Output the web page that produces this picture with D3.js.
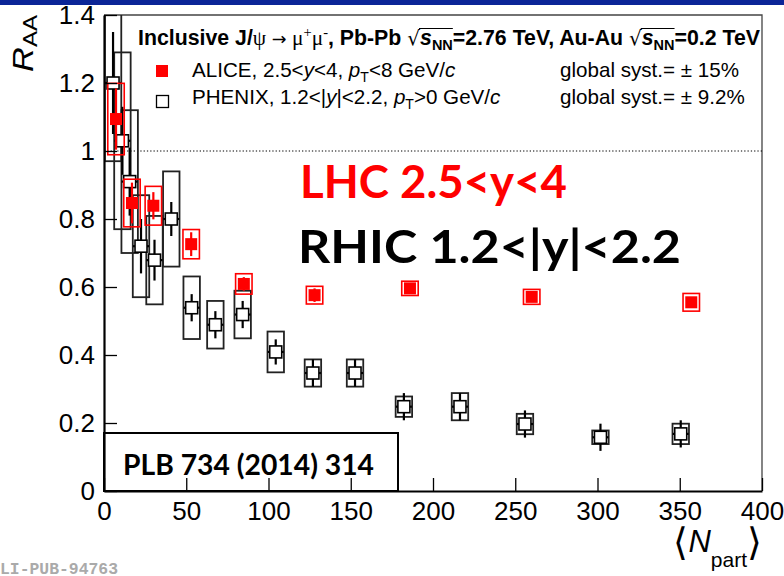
<!DOCTYPE html>
<html>
<head>
<meta charset="utf-8">
<script src="https://cdn.jsdelivr.net/npm/d3@7"></script>
<style>
  html, body { margin: 0; padding: 0; background: #fff; }
  svg { display: block; }
  text { font-family: "Liberation Sans", Arial, sans-serif; }
</style>
</head>
<body>
<script>
// J/psi nuclear modification factor vs <Npart>: ALICE (Pb-Pb 2.76 TeV) and PHENIX (Au-Au 0.2 TeV)

// ALICE, 2.5<y<4
const aliceNpart = [357, 260, 186, 128, 85, 53, 30, 17, 7.3];
const aliceRaa   = [0.555, 0.571, 0.596, 0.576, 0.609, 0.726, 0.839, 0.847, 1.094];
const aliceStat  = [0.015, 0.015, 0.015, 0.02, 0.02, 0.035, 0.04, 0.06, 0.09];
const aliceSyst  = [0.026, 0.022, 0.021, 0.026, 0.03, 0.043, 0.057, 0.07, 0.105];

// PHENIX, 1.2<|y|<2.2
const phenixNpart = [350.6, 301.8, 255.9, 216.4, 182.3, 152.6, 127, 104.4, 84.3, 67.7, 53.3, 40.9, 30.7, 22.5, 15.6, 11.2, 5.5];
const phenixRaa   = [0.168, 0.158, 0.197, 0.248, 0.248, 0.347, 0.347, 0.409, 0.519, 0.489, 0.539, 0.80, 0.679, 0.72, 0.91, 1.03, 1.20];
const phenixStat  = [0.04, 0.04, 0.04, 0.04, 0.04, 0.04, 0.04, 0.037, 0.04, 0.04, 0.04, 0.05, 0.06, 0.08, 0.10, 0.10, 0.15];
const phenixSyst  = [0.03, 0.02, 0.03, 0.04, 0.03, 0.04, 0.04, 0.06, 0.07, 0.07, 0.092, 0.14, 0.13, 0.15, 0.21, 0.26, 0.23];

// axis ticks
const xTicks = [0, 50, 100, 150, 200, 250, 300, 350, 400];
const yTicks = [0, 0.2, 0.4, 0.6, 0.8, 1, 1.2, 1.4];

const W = 784, H = 576;
const pLeft = 104, pRight = 762, pTop = 15, pBottom = 491;
const boxHalf = 5;      // half width of systematic boxes, in Npart units
const mSize = 12;       // marker size, px

const svg = d3.select("body").append("svg").attr("width", W).attr("height", H);

// banner strip
svg.append("rect").attr("x", 0).attr("y", 0).attr("width", W).attr("height", 5).attr("fill", "#0b2597");

const x = d3.scaleLinear().domain([0, 400]).range([pLeft, pRight]);
const y = d3.scaleLinear().domain([0, 1.4]).range([pBottom, pTop]);

svg.append("clipPath").attr("id", "plotclip")
  .append("rect").attr("x", pLeft).attr("y", pTop).attr("width", pRight - pLeft).attr("height", pBottom - pTop);

// frame (top and right)
svg.append("path").attr("d", `M${pLeft},${pTop}H${pRight}V${pBottom}`)
  .attr("fill", "none").attr("stroke", "#444").attr("stroke-width", 1.3);

// unity reference line
svg.append("line").attr("x1", pLeft).attr("x2", pRight).attr("y1", y(1)).attr("y2", y(1))
  .attr("stroke", "#000").attr("stroke-width", 1).attr("stroke-dasharray", "1.3,2");

const plot = svg.append("g").attr("clip-path", "url(#plotclip)");

// PHENIX
const phenix = phenixNpart.map((n, i) => ({ n, r: phenixRaa[i], st: phenixStat[i], sy: phenixSyst[i] }));
const gP = plot.append("g");
gP.selectAll("rect.sys").data(phenix).join("rect").attr("class", "sys")
  .attr("x", d => x(d.n - boxHalf)).attr("width", d => x(d.n + boxHalf) - x(d.n - boxHalf))
  .attr("y", d => y(d.r + d.sy)).attr("height", d => y(d.r - d.sy) - y(d.r + d.sy))
  .attr("fill", "none").attr("stroke", "#222").attr("stroke-width", 1.8);
gP.selectAll("line.stat").data(phenix).join("line").attr("class", "stat")
  .attr("x1", d => x(d.n)).attr("x2", d => x(d.n))
  .attr("y1", d => y(d.r + d.st)).attr("y2", d => y(d.r - d.st))
  .attr("stroke", "#000").attr("stroke-width", 2.2);
gP.selectAll("line.xerr").data(phenix).join("line").attr("class", "xerr")
  .attr("x1", d => x(d.n) - mSize / 2 - 2).attr("x2", d => x(d.n) + mSize / 2 + 2)
  .attr("y1", d => y(d.r)).attr("y2", d => y(d.r))
  .attr("stroke", "#000").attr("stroke-width", 2.2);
gP.selectAll("rect.mk").data(phenix).join("rect").attr("class", "mk")
  .attr("x", d => x(d.n) - mSize / 2).attr("y", d => y(d.r) - mSize / 2)
  .attr("width", mSize).attr("height", mSize)
  .attr("fill", "#fff").attr("stroke", "#000").attr("stroke-width", 1.6);

// ALICE
const alice = aliceNpart.map((n, i) => ({ n, r: aliceRaa[i], st: aliceStat[i], sy: aliceSyst[i] }));
const gA = plot.append("g");
gA.selectAll("rect.sys").data(alice).join("rect").attr("class", "sys")
  .attr("x", d => x(d.n - boxHalf)).attr("width", d => x(d.n + boxHalf) - x(d.n - boxHalf))
  .attr("y", d => y(d.r + d.sy)).attr("height", d => y(d.r - d.sy) - y(d.r + d.sy))
  .attr("fill", "none").attr("stroke", "#ff0000").attr("stroke-width", 1.6);
gA.selectAll("line.stat").data(alice).join("line").attr("class", "stat")
  .attr("x1", d => x(d.n)).attr("x2", d => x(d.n))
  .attr("y1", d => y(d.r + d.st)).attr("y2", d => y(d.r - d.st))
  .attr("stroke", "#ff0000").attr("stroke-width", 2.2);
gA.selectAll("rect.mk").data(alice).join("rect").attr("class", "mk")
  .attr("x", d => x(d.n) - mSize / 2).attr("y", d => y(d.r) - mSize / 2)
  .attr("width", mSize).attr("height", mSize).attr("fill", "#ff0000");

// publication reference box
svg.append("rect").attr("x", pLeft).attr("y", 433).attr("width", 398 - pLeft).attr("height", pBottom - 433)
  .attr("fill", "#fff").attr("stroke", "#000").attr("stroke-width", 2);
svg.append("text").attr("x", 123).attr("y", 475)
  .attr("textLength", 251).attr("lengthAdjust", "spacingAndGlyphs")
  .style("font-family", "Lato, 'Open Sans', sans-serif").style("font-weight", 700).style("font-size", "28px")
  .text("PLB 734 (2014) 314");

// axes
const labelSize = "26px";
const yMinor = d3.range(0, 1.4001, 0.05).filter(v => Math.abs(v * 5 - Math.round(v * 5)) > 1e-6);
const xMinor = d3.range(0, 400.1, 10).filter(v => v % 50 !== 0);

const gy = svg.append("g").attr("transform", `translate(${pLeft},0)`);
gy.call(d3.axisLeft(y).tickValues(yMinor).tickSize(-7).tickSizeOuter(0).tickFormat(""));
gy.call(d3.axisLeft(y).tickValues(yTicks).tickSize(-13).tickSizeOuter(0).tickPadding(9).tickFormat(d => String(d)));
gy.selectAll("path.domain").attr("stroke-width", 2.2);
gy.selectAll("line").attr("stroke-width", 1.3);
gy.selectAll("text").style("font-size", labelSize).style("font-family", "'Liberation Sans', Arial, sans-serif").attr("fill", "#000");

const gx = svg.append("g").attr("transform", `translate(0,${pBottom})`);
gx.call(d3.axisBottom(x).tickValues(xMinor).tickSize(-6).tickSizeOuter(0).tickFormat(""));
gx.call(d3.axisBottom(x).tickValues(xTicks).tickSize(-13).tickSizeOuter(0).tickPadding(11).tickFormat(d => String(d)));
gx.selectAll("path.domain").attr("stroke-width", 2.2);
gx.selectAll("line").attr("stroke-width", 1.3);
gx.selectAll("text").style("font-size", labelSize).style("font-family", "'Liberation Sans', Arial, sans-serif").attr("fill", "#000");

// axis titles
const yt = svg.append("text").attr("transform", `translate(33,${pTop}) rotate(-90)`)
  .attr("text-anchor", "end").attr("textLength", 57).attr("lengthAdjust", "spacingAndGlyphs");
yt.append("tspan").style("font-style", "italic").style("font-size", "30px").text("R");
yt.append("tspan").style("font-size", "21px").attr("dy", 4).text("AA");

const xt = svg.append("text").attr("x", pRight).attr("y", 552).attr("text-anchor", "end");
xt.append("tspan").style("font-family", "'DejaVu Sans', sans-serif").style("font-weight", 200).style("font-size", "38px").attr("dy", 3).text("\u27E8");
xt.append("tspan").style("font-style", "italic").style("font-size", "31px").attr("dy", -3).text("N");
xt.append("tspan").style("font-size", "21px").attr("dy", 15).text("part");
xt.append("tspan").style("font-family", "'DejaVu Sans', sans-serif").style("font-weight", 200).style("font-size", "38px").attr("dy", -12).text("\u27E9");

// legend header
const hdr = svg.append("text").attr("x", 138).attr("y", 45).style("font-size", "21.3px").style("font-weight", 700);
const serif = "'Liberation Serif', 'Times New Roman', serif";
hdr.append("tspan").text("Inclusive J/");
hdr.append("tspan").style("font-family", serif).style("font-weight", 400).text("\u03C8");
hdr.append("tspan").style("font-family", "'DejaVu Sans', sans-serif").style("font-weight", 400).style("font-size", "17.6px").text(" \u2192 ");
hdr.append("tspan").style("font-family", serif).style("font-weight", 400).text("\u03BC");
hdr.append("tspan").style("font-family", serif).style("font-weight", 400).style("font-size", "14.5px").attr("dy", -8).text("+");
hdr.append("tspan").style("font-family", serif).style("font-weight", 400).attr("dy", 8).text("\u03BC");
hdr.append("tspan").style("font-family", serif).style("font-weight", 400).style("font-size", "14.5px").attr("dy", -8).text("-");
hdr.append("tspan").attr("dy", 8).text(", Pb-Pb ");
const over = [];
function sqrtS(tail) {
  const r = hdr.append("tspan").style("font-weight", 400).style("font-family", "'DejaVu Sans', sans-serif").style("font-size", "20px").text("\u221A");
  hdr.append("tspan").style("font-style", "italic").text("s");
  const nn = hdr.append("tspan").style("font-size", "14.5px").attr("dy", 5).text("NN");
  hdr.append("tspan").attr("dy", -5).text(tail);
  over.push([r, nn]);
}
sqrtS("=2.76 TeV, Au-Au ");
sqrtS("=0.2 TeV");
over.forEach(([r, nn]) => {
  const x0 = r.node().getEndPositionOfChar(0).x - 1;
  const x1 = nn.node().getEndPositionOfChar(1).x;
  svg.append("line").attr("x1", x0).attr("x2", x1).attr("y1", 28.5).attr("y2", 28.5)
    .attr("stroke", "#000").attr("stroke-width", 1.2);
});

// legend entries
const legFont = "20.6px";
svg.append("rect").attr("x", 156).attr("y", 65).attr("width", 12).attr("height", 12).attr("fill", "#ff0000");
svg.append("rect").attr("x", 156.5).attr("y", 95.5).attr("width", 12).attr("height", 12)
  .attr("fill", "#fff").attr("stroke", "#000").attr("stroke-width", 1.3);

const l1 = svg.append("text").attr("x", 192).attr("y", 77).style("font-size", legFont);
l1.append("tspan").text("ALICE, 2.5<");
l1.append("tspan").style("font-style", "italic").text("y");
l1.append("tspan").text("<4, ");
l1.append("tspan").style("font-style", "italic").text("p");
l1.append("tspan").style("font-size", "14px").attr("dy", 5).text("T");
l1.append("tspan").attr("dy", -5).text("<8 GeV/");
l1.append("tspan").style("font-style", "italic").text("c");

const l2 = svg.append("text").attr("x", 192).attr("y", 104).style("font-size", legFont);
l2.append("tspan").text("PHENIX, 1.2<|");
l2.append("tspan").style("font-style", "italic").text("y");
l2.append("tspan").text("|<2.2, ");
l2.append("tspan").style("font-style", "italic").text("p");
l2.append("tspan").style("font-size", "14px").attr("dy", 5).text("T");
l2.append("tspan").attr("dy", -5).text(">0 GeV/");
l2.append("tspan").style("font-style", "italic").text("c");

svg.append("text").attr("x", 560).attr("y", 77).style("font-size", legFont).text("global syst.= \u00B1 15%");
svg.append("text").attr("x", 560).attr("y", 104).style("font-size", legFont).text("global syst.= \u00B1 9.2%");

// overlay annotations
svg.append("text").attr("x", 300).attr("y", 198)
  .attr("textLength", 267).attr("lengthAdjust", "spacingAndGlyphs")
  .style("font-family", "Lato, 'Open Sans', sans-serif").style("font-weight", 700).style("font-size", "46px")
  .attr("fill", "#ff0000").text("LHC 2.5<y<4");
svg.append("text").attr("x", 298).attr("y", 263)
  .attr("textLength", 383).attr("lengthAdjust", "spacingAndGlyphs")
  .style("font-family", "Lato, 'Open Sans', sans-serif").style("font-weight", 700).style("font-size", "46px")
  .attr("fill", "#000").text("RHIC 1.2<|y|<2.2");

// figure id
svg.append("text").attr("x", 0).attr("y", 574)
  .style("font-family", "'Liberation Mono', 'Courier New', monospace").style("font-weight", 700).style("font-size", "16.4px")
  .attr("fill", "#aaaaaa").text("LI-PUB-94763");
</script>
</body>
</html>
